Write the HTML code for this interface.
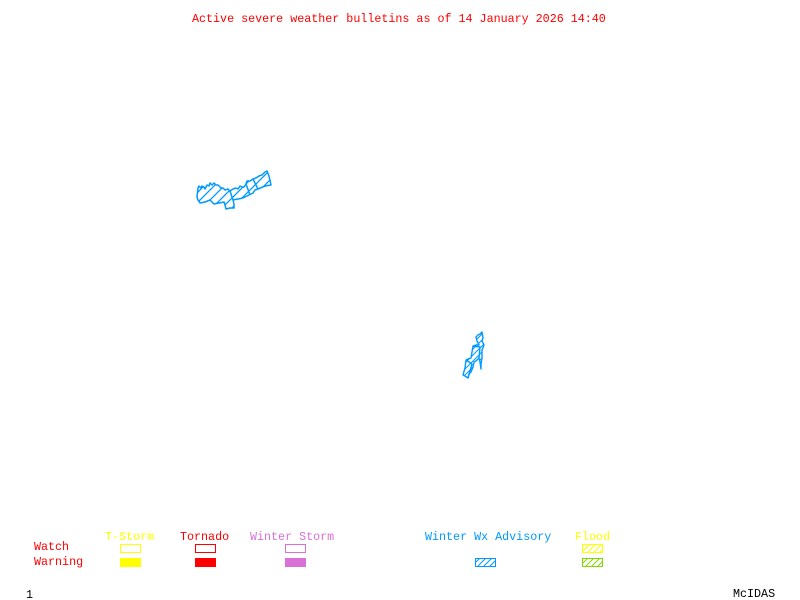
<!DOCTYPE html>
<html><head><meta charset="utf-8"><style>
html,body{margin:0;padding:0;background:#fff}
svg{display:block}
text{font-family:"Liberation Mono",monospace;font-size:11.7px;white-space:pre}
</style></head><body>
<svg width="800" height="600" viewBox="0 0 800 600" xmlns="http://www.w3.org/2000/svg">
<defs>
<pattern id="h1" patternUnits="userSpaceOnUse" width="10" height="10"><path d="M-2 12L12 -2M-2 2L2 -2M8 12L12 8" stroke="#0099ff" stroke-width="1.3" fill="none"/></pattern>
<pattern id="h2" patternUnits="userSpaceOnUse" width="6" height="6"><path d="M-1 7L7 -1M-1 1L1 -1M5 7L7 5" stroke="#0099ff" stroke-width="1" fill="none"/></pattern>
<pattern id="hy" patternUnits="userSpaceOnUse" width="6" height="6"><path d="M-1 7L7 -1M-1 1L1 -1M5 7L7 5" stroke="#ffff00" stroke-width="1" fill="none"/></pattern>
<pattern id="hg" patternUnits="userSpaceOnUse" width="6" height="6"><path d="M-1 7L7 -1M-1 1L1 -1M5 7L7 5" stroke="#7fd800" stroke-width="1" fill="none"/></pattern>
</defs>
<text x="192" y="22" fill="#ff0000">Active severe weather bulletins as of 14 January 2026 14:40</text>

<g fill="url(#h1)" stroke="#0099ff" stroke-width="1.5" stroke-linejoin="round">
<polygon points="198,188 199,186 201,188 202,186 204,187 205,189 207,185 209,186 210,183 212,185 214,183 216,185 218,185 221,188 223,188 225,190 228,189 230,191 233,189 236,188 238,189 240,186 242,187 244,187 246,184 247,181 250,181 253,179 256,178 259,176 262,175 265,172 267,171 269,176 271,185 265,186 258,189 255,190 253,193 249,195 243,198 238,199 233,200 234,204 234,208 230,208 226,209 225,205 224,202 219,203 214,204 211,201 210,200 205,202 200,203 198,200 197,197"/>
<polyline fill="none" points="230,191 233,200"/>
<polyline fill="none" points="246,184 250,195"/>
<polyline fill="none" points="253,179 258,189"/>
</g>

<g fill="url(#h2)" stroke="#0099ff" stroke-width="1.4" stroke-linejoin="round">
<polygon points="476,337 478,335 480,334 482,332 483,338 482,341 484,345 482,350 482,358 481,364 481,369 480,362 479,358 476,361 474,362 473,367 471,372 469,374 468,378 465,376 463,375 465,368 466,360 468,359 471,358 472,352 473,346 476,345 479,345 477,341"/>
<polyline fill="none" points="473,346 480,347 479,358"/>
<polyline fill="none" points="466,360 472,364 468,378"/>
</g>

<text x="105" y="540" fill="#ffff00">T-Storm</text>
<text x="180" y="540" fill="#ff0000">Tornado</text>
<text x="250" y="540" fill="#da70d6">Winter Storm</text>
<text x="425" y="540" fill="#0099ff">Winter Wx Advisory</text>
<text x="575" y="540" fill="#ffff00">Flood</text>
<text x="34" y="550" fill="#ff0000">Watch</text>
<text x="34" y="565" fill="#ff0000">Warning</text>

<g shape-rendering="crispEdges">
<rect x="120.5" y="544.5" width="20" height="8" fill="none" stroke="#ffff00"/>
<rect x="195.5" y="544.5" width="20" height="8" fill="none" stroke="#ff0000"/>
<rect x="285.5" y="544.5" width="20" height="8" fill="none" stroke="#da70d6"/>
<rect x="120" y="558" width="21" height="9" fill="#ffff00"/>
<rect x="195" y="558" width="21" height="9" fill="#ff0000"/>
<rect x="285" y="558" width="21" height="9" fill="#da70d6"/>
</g>
<rect x="475.5" y="558.5" width="20" height="8" fill="url(#h2)" stroke="#0099ff"/>
<rect x="582.5" y="544.5" width="20" height="8" fill="url(#hy)" stroke="#ffff00"/>
<rect x="582.5" y="558.5" width="20" height="8" fill="url(#hg)" stroke="#7fd800"/>

<text x="26" y="598" fill="#000">1</text>
<text x="733" y="597" fill="#000">McIDAS</text>
</svg>
</body></html>
